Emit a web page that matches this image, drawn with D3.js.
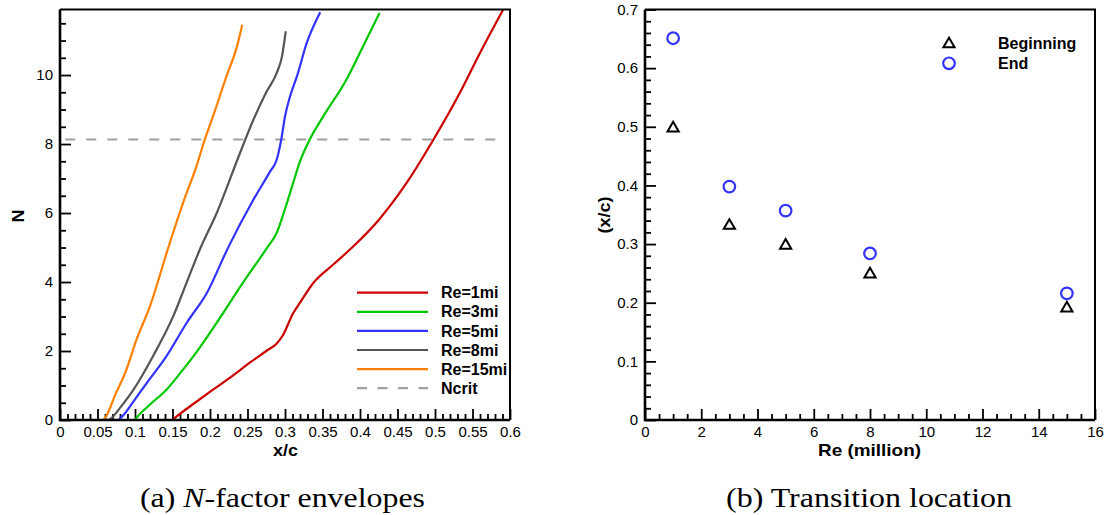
<!DOCTYPE html>
<html><head><meta charset="utf-8">
<script src="https://cdn.jsdelivr.net/npm/d3@7"></script>
<style>body{margin:0;background:#fff} svg{display:block}</style>
</head><body><svg id="c" width="1107" height="515"></svg>
<script>
// ---------- data: (a) N-factor envelopes ----------
const re1X  = [0.150,0.156,0.180,0.204,0.230,0.253,0.275,0.289,0.297,0.311,0.320,0.338,0.364,0.387,0.425,0.463,0.498,0.533,0.560,0.591];
const re1N  = [0,0.11,0.50,0.88,1.28,1.66,2.00,2.22,2.45,3.10,3.40,3.98,4.50,4.95,5.80,6.90,8.13,9.48,10.64,11.90];
const re3X  = [0.100,0.102,0.120,0.142,0.160,0.178,0.209,0.244,0.276,0.289,0.296,0.302,0.311,0.320,0.333,0.351,0.382,0.404,0.426];
const re3N  = [0,0.06,0.45,0.88,1.35,1.85,2.82,3.98,4.99,5.43,5.85,6.25,6.88,7.50,8.13,8.80,9.87,10.83,11.80];
const re5X  = [0.078,0.085,0.100,0.116,0.142,0.169,0.196,0.224,0.258,0.280,0.289,0.295,0.300,0.307,0.316,0.329,0.347];
const re5N  = [0,0.15,0.60,1.08,1.85,2.82,3.69,4.99,6.39,7.20,7.55,8.13,8.80,9.40,9.97,10.93,11.82];
const re8X  = [0.065,0.069,0.080,0.098,0.124,0.151,0.170,0.187,0.209,0.240,0.258,0.275,0.289,0.296,0.301];
const re8N  = [0,0.06,0.35,0.88,1.85,3.01,4.05,4.97,6.00,7.74,8.71,9.50,10.06,10.54,11.27];
const re15X = [0.057,0.060,0.075,0.087,0.102,0.120,0.144,0.165,0.182,0.193,0.204,0.222,0.236,0.243];
const re15N = [0,0.06,0.80,1.37,2.33,3.30,4.97,6.35,7.36,8.13,8.80,9.97,10.83,11.46];
const seriesNames  = ["Re=1mi","Re=3mi","Re=5mi","Re=8mi","Re=15mi"];
const seriesColors = ["#cc0000","#00c800","#3333ff","#555555","#ff8000"];
const ncritValue = 8.13;
const ncritSpan  = [0.007, 0.583];
const xTicksA = [0,0.05,0.1,0.15,0.2,0.25,0.3,0.35,0.4,0.45,0.5,0.55,0.6];
const yTicksA = [0,2,4,6,8,10];

// ---------- data: (b) Transition location ----------
const reMillion = [1,3,5,8,15];
const beginning = [0.500,0.334,0.300,0.251,0.193];
const endLoc    = [0.651,0.398,0.357,0.284,0.216];
const xTicksB = [0,2,4,6,8,10,12,14,16];
const yTicksB = [0,0.1,0.2,0.3,0.4,0.5,0.6,0.7];

const svg = d3.select("#c");
svg.append("rect").attr("width",1107).attr("height",515).attr("fill","#fff");
const SANS = "'Liberation Sans', Arial, Helvetica, sans-serif";
const SERIF = "'Liberation Serif', 'Times New Roman', serif";
const fmt = v => String(+v.toFixed(2));

function frame(g, x, y){
  const [x0,x1] = x.range(), [y0,y1] = y.range();
  g.append("path").attr("d",`M${x0},${y1}H${x1}V${y0}`).attr("fill","none").attr("stroke","#000").attr("stroke-width",2);
  g.append("path").attr("d",`M${x0},${y1}V${y0}H${x1}`).attr("fill","none").attr("stroke","#000").attr("stroke-width",2.6);
}
function axes(g, x, y, xt, yt, xMinor, yMinor){
  const y0 = y.range()[0], x0 = x.range()[0];
  const style = sel => { sel.select(".domain").remove();
    sel.selectAll("line").attr("stroke","#000").attr("stroke-width",1.8);
    sel.selectAll("text").attr("font-family",SANS).attr("font-size","15px").attr("fill","#000"); };
  g.append("g").attr("transform",`translate(0,${y0})`)
    .call(d3.axisBottom(x).tickValues(xMinor).tickSize(-6).tickFormat(""))
    .call(style);
  g.append("g").attr("transform",`translate(0,${y0})`)
    .call(d3.axisBottom(x).tickValues(xt).tickSize(-11).tickPadding(6).tickFormat(fmt))
    .call(style);
  g.append("g").attr("transform",`translate(${x0},0)`)
    .call(d3.axisLeft(y).tickValues(yMinor).tickSize(-6).tickFormat(""))
    .call(style);
  g.append("g").attr("transform",`translate(${x0},0)`)
    .call(d3.axisLeft(y).tickValues(yt).tickSize(-11).tickPadding(7).tickFormat(fmt))
    .call(style);
}
function title(g, txt, x, y, len, rot){
  const t = g.append("text").attr("text-anchor","middle")
    .attr("font-family",SANS).attr("font-weight","bold").attr("font-size","17px")
    .attr("textLength",len).attr("lengthAdjust","spacingAndGlyphs").text(txt);
  if (rot) t.attr("transform",`translate(${x},${y}) rotate(-90)`);
  else t.attr("x",x).attr("y",y);
  return t;
}

// ---------- panel (a) ----------
const xA = d3.scaleLinear().domain([0,0.6]).range([60,510]);
const yA = d3.scaleLinear().domain([0,11.9]).range([420,9.5]);
const gA = svg.append("g");
const minorXA = d3.range(0,61).map(i=>i/100).filter(v=>Math.round(v*100)%5!==0);
const minorYA = d3.range(0,24).map(i=>i*0.5).filter(v=>v%2!==0);
axes(gA, xA, yA, xTicksA, yTicksA, minorXA, minorYA);

gA.append("clipPath").attr("id","clipA").append("rect")
  .attr("x",60).attr("y",9.5).attr("width",450).attr("height",410.5);
const seriesX = [re1X,re3X,re5X,re8X,re15X], seriesN = [re1N,re3N,re5N,re8N,re15N];
const lineA = d3.line().x(d=>xA(d[0])).y(d=>yA(d[1])).curve(d3.curveMonotoneX);
const plotA = gA.append("g").attr("clip-path","url(#clipA)");
plotA.append("line")
  .attr("x1",xA(ncritSpan[0])).attr("x2",xA(ncritSpan[1]))
  .attr("y1",yA(ncritValue)).attr("y2",yA(ncritValue))
  .attr("stroke","#a0a0a0").attr("stroke-width",2).attr("stroke-dasharray","10,11");
seriesX.forEach((xs,i)=>{
  plotA.append("path").datum(xs.map((v,j)=>[v,seriesN[i][j]]))
    .attr("d",lineA).attr("fill","none").attr("stroke",seriesColors[i]).attr("stroke-width",2.2);
});
frame(gA, xA, yA);

// legend (a)
const legA = gA.append("g");
const legNames = seriesNames.concat(["Ncrit"]);
const legColors = seriesColors.concat(["#a0a0a0"]);
legNames.forEach((n,i)=>{
  const yy = 292.7 + i*19.1;
  legA.append("line").attr("x1",357).attr("x2",428).attr("y1",yy).attr("y2",yy)
    .attr("stroke",legColors[i]).attr("stroke-width",2.2)
    .attr("stroke-dasharray", i===5 ? "10,10.5" : null);
  legA.append("text").attr("x",441).attr("y",yy+5.6).text(n)
    .attr("font-family",SANS).attr("font-weight","bold").attr("font-size","16px");
});
title(gA, "x/c", 285.5, 455.5, 25, false);
title(gA, "N", 24, 216, 13, true);
const capA = gA.append("text").attr("x",140).attr("y",506.5)
  .attr("font-family",SERIF).attr("font-size","27px").attr("textLength",285).attr("lengthAdjust","spacingAndGlyphs");
capA.append("tspan").text("(a) ");
capA.append("tspan").attr("font-style","italic").text("N");
capA.append("tspan").text("-factor envelopes");

// ---------- panel (b) ----------
const xB = d3.scaleLinear().domain([0,16]).range([645,1095]);
const yB = d3.scaleLinear().domain([0,0.7]).range([420,9.5]);
const gB = svg.append("g");
const minorXB = d3.range(0,33).map(i=>i*0.5).filter(v=>v%2!==0);
const minorYB = d3.range(0,36).map(i=>+(i*0.02).toFixed(2)).filter(v=>Math.round(v*100)%10!==0);
axes(gB, xB, yB, xTicksB, yTicksB, minorXB, minorYB);
frame(gB, xB, yB);

const triPath = "M0,-5L5.6,4.6L-5.6,4.6Z";
reMillion.forEach((r,i)=>{
  gB.append("path").attr("d",triPath)
    .attr("transform",`translate(${xB(r)},${yB(beginning[i])})`)
    .attr("fill","none").attr("stroke","#000").attr("stroke-width",2).attr("stroke-linejoin","miter");
  gB.append("circle").attr("cx",xB(r)).attr("cy",yB(endLoc[i])).attr("r",5.8)
    .attr("fill","none").attr("stroke","#3333ff").attr("stroke-width",2.2);
});
// legend (b)
gB.append("path").attr("d",triPath).attr("transform","translate(949,42.7)")
  .attr("fill","none").attr("stroke","#000").attr("stroke-width",2);
gB.append("circle").attr("cx",949).attr("cy",63.3).attr("r",5.8)
  .attr("fill","none").attr("stroke","#3333ff").attr("stroke-width",2.2);
[["Beginning",48.5],["End",68.5]].forEach(([t,yy])=>{
  gB.append("text").attr("x",998).attr("y",yy).text(t)
    .attr("font-family",SANS).attr("font-weight","bold").attr("font-size","16px");
});
title(gB, "Re (million)", 869.5, 455.5, 103, false);
title(gB, "(x/c)", 610, 215, 37, true);
gB.append("text").attr("x",726).attr("y",506.5)
  .attr("font-family",SERIF).attr("font-size","27px").attr("textLength",286).attr("lengthAdjust","spacingAndGlyphs")
  .text("(b) Transition location");
</script></body></html>
